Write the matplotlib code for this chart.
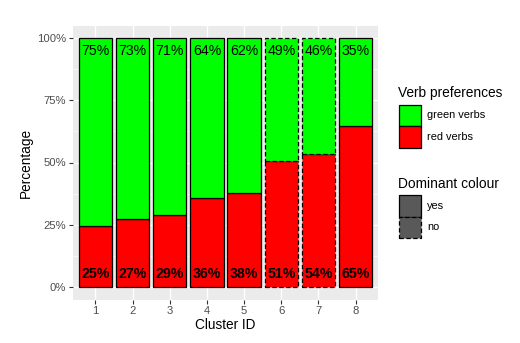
import matplotlib.pyplot as plt
from matplotlib.patches import Rectangle
import numpy as np

plt.rcParams['font.family'] = ['Liberation Sans', 'DejaVu Sans']

clusters = [1, 2, 3, 4, 5, 6, 7, 8]
red_pct = [24.6, 27.4, 28.9, 35.6, 37.7, 50.6, 53.5, 64.6]
red_labels = ['25%', '27%', '29%', '36%', '38%', '51%', '54%', '65%']
green_labels = ['75%', '73%', '71%', '64%', '62%', '49%', '46%', '35%']
dominant = ['yes', 'yes', 'yes', 'yes', 'yes', 'no', 'no', 'yes']

red = np.array(red_pct) / 100
green = 1 - red
x = np.array(clusters)

W, H = 520, 343
fig = plt.figure(figsize=(W / 100, H / 100), dpi=100)
ax = fig.add_axes([73 / W, 1 - 299.5 / H, 305 / W, 274 / H])
ax.set_facecolor('#EBEBEB')
for s in ax.spines.values():
    s.set_visible(False)

# grid
for yv in [0.125, 0.375, 0.625, 0.875]:
    ax.axhline(yv, color='white', lw=0.5, zorder=0)
for yv in [0, 0.25, 0.5, 0.75, 1.0]:
    ax.axhline(yv, color='white', lw=1.0, zorder=0)
for xv in x:
    ax.axvline(xv, color='white', lw=1.0, zorder=0)

DASH = (0, (3.5, 2))
styles = ['-' if d == 'yes' else DASH for d in dominant]
for i in range(len(x)):
    ax.bar(x[i], red[i], width=0.9, color='#FF0000', edgecolor='black',
           linewidth=0.9, linestyle=styles[i], zorder=2)
    ax.bar(x[i], green[i], bottom=red[i], width=0.9, color='#00FF00',
           edgecolor='black', linewidth=0.9, linestyle=styles[i], zorder=2)
    ax.annotate(red_labels[i], (x[i], 0), xytext=(0, 4.5),
                textcoords='offset points', ha='center', va='bottom',
                fontsize=10.2, fontweight='bold', zorder=3)
    ax.annotate(green_labels[i], (x[i], 1), xytext=(0, -4.5),
                textcoords='offset points', ha='center', va='top',
                fontsize=10.2, zorder=3)

ax.set_xlim(0.4, 8.6)
ax.set_ylim(-0.05, 1.05)
ax.set_xticks(x)
ax.set_xticklabels([str(c) for c in clusters])
ax.set_yticks([0, 0.25, 0.5, 0.75, 1.0])
ax.set_yticklabels(['0%', '25%', '50%', '75%', '100%'])
ax.tick_params(colors='#333333', labelcolor='#4D4D4D', labelsize=8.1,
               length=3, width=0.8, pad=2)
ax.set_xlabel('Cluster ID', fontsize=9.8, labelpad=1)
ax.set_ylabel('Percentage', fontsize=9.8, labelpad=3)


# legends drawn by hand (ggplot style: square keys that touch)
def draw_legend(title, top, entries):
    fig.text(398 / W, 1 - top / H, title, fontsize=9.9, ha='left', va='top')
    key_top = top + 18
    size = 21.5
    for j, (label, fc, ls) in enumerate(entries):
        y0 = key_top + j * size
        fig.add_artist(Rectangle((399 / W, 1 - (y0 + size) / H), size / W, size / H,
                                 facecolor=fc, edgecolor='black', lw=0.9,
                                 linestyle=ls, transform=fig.transFigure))
        fig.text(427 / W, 1 - (y0 + size / 2) / H, label, fontsize=7.9,
                 ha='left', va='center')


draw_legend('Verb preferences', 86.5,
            [('green verbs', '#00FF00', '-'), ('red verbs', '#FF0000', '-')])
draw_legend('Dominant colour', 177,
            [('yes', '#595959', '-'), ('no', '#595959', DASH)])

fig.savefig('out.png', dpi=100)
